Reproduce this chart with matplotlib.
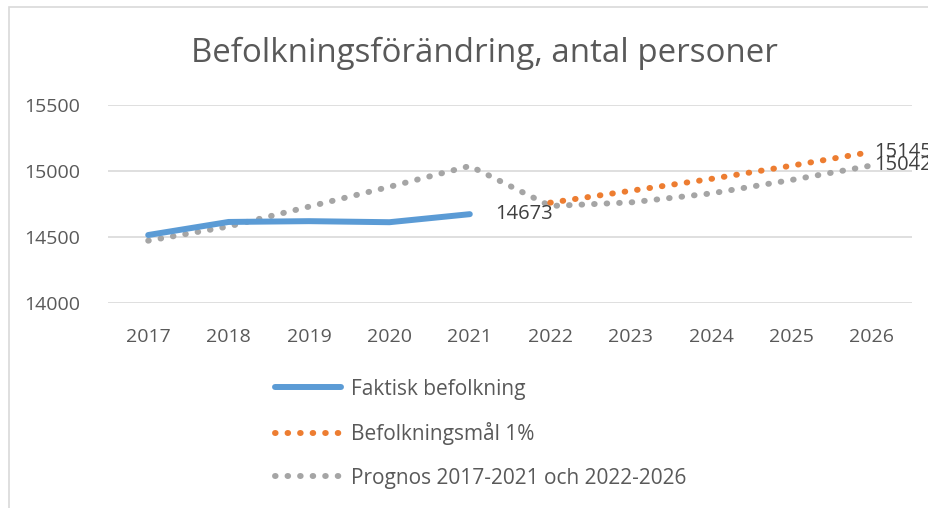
import matplotlib
matplotlib.use("Agg")
import matplotlib.pyplot as plt
from matplotlib.patches import Rectangle

years = ["2017", "2018", "2019", "2020", "2021", "2022", "2023", "2024", "2025", "2026"]
faktisk = [14515, 14614, 14620, 14612, 14673]
mal = [14760, 14850, 14940, 15040, 15145]
prognos = [14472, 14580, 14730, 14880, 15038, 14735, 14762, 14830, 14932, 15042]

text_col = "#595959"
plt.rcParams["font.family"] = ["Open Sans", "DejaVu Sans"]

fig = plt.figure(figsize=(9.29, 5.08), dpi=100)
ax = fig.add_axes([108 / 929, 1 - 303 / 508, 804 / 929, 198 / 508])

# chart frame (only left/top are visible in the crop)
fig.patches.append(Rectangle((9 / 929, -0.1), 1.2, 1 - 7 / 508 + 0.1, transform=fig.transFigure,
                             fill=False, edgecolor="#D9D9D9", linewidth=1.2))

x_all = list(range(len(years)))
x_fak = x_all[:len(faktisk)]
x_mal = x_all[len(years) - len(mal):]

dot = (0, (0.1, 2))
ax.plot(x_all, prognos, color="#A5A5A5", lw=4.3, linestyle=dot, dash_capstyle="round",
        label="Prognos 2017-2021 och 2022-2026", zorder=2)
ax.plot(x_mal, mal, color="#ED7D31", lw=4.3, linestyle=dot, dash_capstyle="round",
        label="Befolkningsmål 1%", zorder=3)
ax.plot(x_fak, faktisk, color="#5B9BD5", lw=4.3, solid_capstyle="round",
        label="Faktisk befolkning", zorder=4)

# data labels (the two at the right edge run off the chart, as in the original)
ax.annotate(str(faktisk[-1]), (x_fak[-1], faktisk[-1]), xytext=(18, 0), textcoords="offset points",
            va="center", ha="left", fontsize=14.5, color="#404040")
ax.annotate(str(mal[-1]), (x_mal[-1], mal[-1]), xytext=(2, 0), textcoords="offset points",
            va="center", ha="left", fontsize=14.5, color="#404040", annotation_clip=False)
ax.annotate(str(prognos[-1]), (x_all[-1], prognos[-1]), xytext=(2, 0), textcoords="offset points",
            va="center", ha="left", fontsize=14.5, color="#404040", annotation_clip=False)

ax.set_xlim(-0.5, len(years) - 0.5)
ax.set_ylim(14000, 15500)
ax.set_yticks([14000, 14500, 15000, 15500])
ax.set_xticks(x_all)
ax.set_xticklabels(years)
ax.grid(axis="y", color="#D9D9D9", lw=1.2)
ax.set_axisbelow(True)
for s in ax.spines.values():
    s.set_visible(False)
ax.tick_params(length=0, labelsize=14, labelcolor=text_col)
ax.tick_params(axis="x", pad=18)
ax.tick_params(axis="y", pad=20)

fig.text(484 / 929, 1 - 53 / 508, "Befolkningsförändring, antal personer", ha="center", va="center",
         fontsize=23.8, color=text_col)

h, l = ax.get_legend_handles_labels()
order = [2, 1, 0]
fig.legend([h[i] for i in order], [l[i] for i in order], loc="upper left",
           bbox_to_anchor=(256 / 929, 1 - 360 / 508), frameon=False, fontsize=15,
           handlelength=3.2, handletextpad=0.45, labelspacing=1.08, labelcolor=text_col)

fig.savefig("out.png", dpi=100)
